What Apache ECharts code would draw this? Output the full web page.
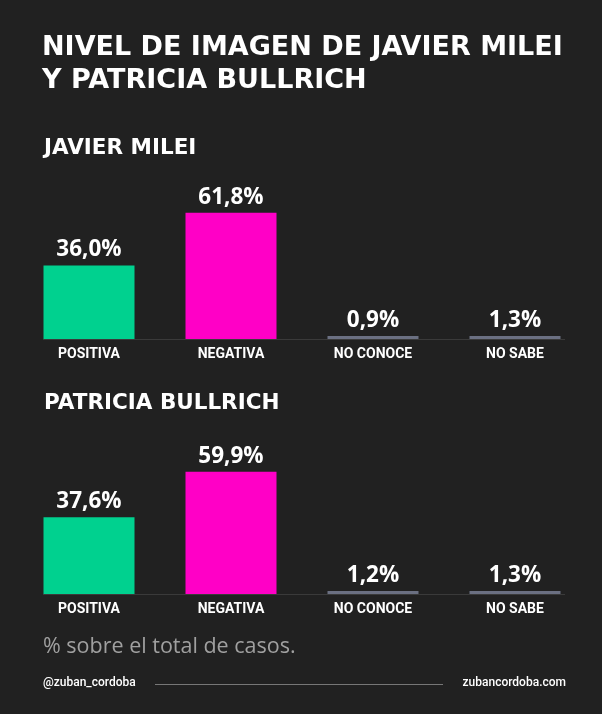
<!DOCTYPE html>
<html><head><meta charset="utf-8">
<script src="https://cdn.jsdelivr.net/npm/echarts@6/dist/echarts.min.js"></script>
<style>html,body{margin:0;padding:0;background:#212121;}#c{width:602px;height:714px;}</style>
</head><body><div id="c"></div>
<script>
const categories = ['POSITIVA', 'NEGATIVA', 'NO CONOCE', 'NO SABE'];
const mileiValues = [36.0, 61.8, 0.9, 1.3];
const bullrichValues = [37.6, 59.9, 1.2, 1.3];
const barColors = ['#00D18F', '#FF00C6', '#6B7082', '#6B7082'];
const titleText = 'NIVEL DE IMAGEN DE JAVIER MILEI\nY PATRICIA BULLRICH';
const panelTitles = ['JAVIER MILEI', 'PATRICIA BULLRICH'];

const chart = echarts.init(document.getElementById('c'), null, {renderer: 'canvas'});
const fmt = v => v.toFixed(1).replace('.', ',') + '%';
function seriesFor(vals, idx) {
  return {
    type: 'bar', xAxisIndex: idx, yAxisIndex: idx,
    barWidth: 91, barMinHeight: 3,
    data: vals.map((v, i) => ({value: v, itemStyle: {color: barColors[i]}})),
    label: {show: true, position: 'top', distance: 4, color: '#fff',
      fontFamily: 'Open Sans', fontWeight: 'bold', fontSize: 22.5,
      formatter: p => fmt(p.value)}
  };
}
const xAx = idx => ({
  type: 'category', gridIndex: idx, data: categories,
  axisLine: {show: false}, axisTick: {show: false},
  axisLabel: {color: '#fff', fontFamily: 'Roboto', fontWeight: 'bold', fontSize: 14, margin: 8}
});
const yAx = idx => ({type: 'value', gridIndex: idx, min: 0, max: 70, show: false, splitLine: {show: false}});

chart.setOption({
  backgroundColor: '#212121',
  animation: false,
  title: [
    {text: titleText, left: 42, top: 31, padding: 0, textStyle: {color: '#fff', fontFamily: 'DejaVu Sans', fontWeight: 'bold', fontSize: 27, lineHeight: 33}},
    {text: panelTitles[0], left: 44, top: 137, padding: 0, textStyle: {color: '#fff', fontFamily: 'DejaVu Sans', fontWeight: 'bold', fontSize: 21.5}},
    {text: panelTitles[1], left: 44, top: 392, padding: 0, textStyle: {color: '#fff', fontFamily: 'DejaVu Sans', fontWeight: 'bold', fontSize: 21.5}},
    {text: '% sobre el total de casos.', left: 43, top: 636, padding: 0, textStyle: {color: '#a0a0a0', fontFamily: 'Open Sans', fontWeight: 'normal', fontSize: 21.5}},
    {text: '@zuban_cordoba', left: 43, top: 677, padding: 0, textStyle: {color: '#fff', fontFamily: 'Roboto', fontWeight: 500, fontSize: 12}},
    {text: 'zubancordoba.com', right: 36, top: 677, padding: 0, textStyle: {color: '#fff', fontFamily: 'Roboto', fontWeight: 500, fontSize: 12}}
  ],
  grid: [
    {left: 18, right: 16, top: 196, height: 143},
    {left: 18, right: 16, top: 451, height: 143}
  ],
  xAxis: [xAx(0), xAx(1)],
  yAxis: [yAx(0), yAx(1)],
  series: [seriesFor(mileiValues, 0), seriesFor(bullrichValues, 1)],
  graphic: [
    {type: 'line', shape: {x1: 43, y1: 339.5, x2: 565, y2: 339.5}, style: {stroke: '#3a3a3a', lineWidth: 1}, z: -1},
    {type: 'line', shape: {x1: 43, y1: 594.5, x2: 565, y2: 594.5}, style: {stroke: '#3a3a3a', lineWidth: 1}, z: -1},
    {type: 'line', shape: {x1: 155, y1: 684.5, x2: 443, y2: 684.5}, style: {stroke: '#777', lineWidth: 1}}
  ]
});
</script></body></html>
